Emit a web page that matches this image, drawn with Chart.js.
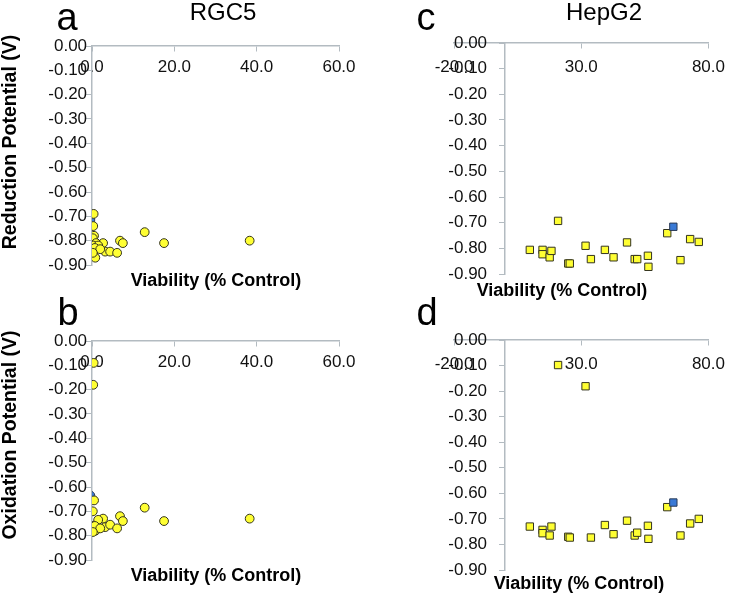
<!DOCTYPE html>
<html>
<head>
<meta charset="utf-8">
<script src="https://cdn.jsdelivr.net/npm/chart.js@4.4.0/dist/chart.umd.min.js"></script>
<style>
  body { margin: 0; background: #fff; font-family: "Liberation Sans", Arial, sans-serif; }
  #wrap { position: relative; width: 734px; height: 595px; overflow: hidden; }
  canvas { position: absolute; }
  .lbl { position: absolute; color: #000; white-space: nowrap; line-height: 1; }
  .bold { font-weight: bold; }
</style>
</head>
<body>
<div id="wrap">
  <canvas id="panelA" width="367" height="297" style="left:0;top:0"></canvas>
  <canvas id="panelB" width="367" height="298" style="left:0;top:297px"></canvas>
  <canvas id="panelC" width="367" height="297" style="left:367px;top:0"></canvas>
  <canvas id="panelD" width="367" height="298" style="left:367px;top:297px"></canvas>
</div>
<script>
// RGC5 compounds (panels a, b)
const rgc5Viability = [0.4, 0.3, 0.5, 0.2, 1.0, 0.3, 0.6, 0.4, 0.8, 2.7, 3.2, 4.4, 6.1, 6.8, 7.5, 12.8, 17.5, 38.3, 1.5, 0.7, 2.0, 0.2];
const rgc5Reduction = [-0.69, -0.74, -0.78, -0.79, -0.81, -0.82, -0.84, -0.86, -0.87, -0.81, -0.845, -0.845, -0.85, -0.80, -0.81, -0.765, -0.81, -0.80, -0.82, -0.83, -0.835, -0.85];
const rgc5Oxidation = [-0.09, -0.18, -0.655, -0.70, -0.755, -0.76, -0.765, -0.775, -0.78, -0.73, -0.765, -0.755, -0.77, -0.72, -0.74, -0.685, -0.74, -0.73, -0.735, -0.76, -0.77, -0.785];
// reference compound (blue)
const rgc5RefViability = [-0.4];
const rgc5RefReduction = [-0.715];
const rgc5RefOxidation = [-0.635];

// HepG2 compounds (panels c, d)
const hepViability = [9.8, 14.8, 14.8, 17.6, 18.3, 20.9, 24.9, 25.5, 31.7, 33.8, 39.3, 42.7, 48.0, 51.0, 52.0, 56.2, 56.4, 63.8, 69.0, 72.8, 76.2];
const hepReduction = [-0.806, -0.806, -0.823, -0.835, -0.81, -0.693, -0.859, -0.859, -0.79, -0.842, -0.806, -0.835, -0.777, -0.842, -0.842, -0.829, -0.872, -0.741, -0.846, -0.764, -0.775];
const hepOxidation = [-0.73, -0.743, -0.756, -0.765, -0.73, -0.098, -0.77, -0.773, -0.181, -0.773, -0.724, -0.76, -0.707, -0.765, -0.754, -0.727, -0.778, -0.654, -0.765, -0.718, -0.70];
const hepRefViability = [66.2];
const hepRefReduction = [-0.716];
const hepRefOxidation = [-0.636];

// tick labels
const rgc5XTicks = [0, 20, 40, 60];
const hepXTicks = [-20, 30, 80];
const potentialTicks = [0, -0.1, -0.2, -0.3, -0.4, -0.5, -0.6, -0.7, -0.8, -0.9];

const axisGrey = '#b3bbc1';
const yellow = '#ffff33';
const blue = '#3a7ad6';
const edge = '#34341f';
const tickFont = { size: 17, family: '"Liberation Sans", Arial, sans-serif' };

function toPoints(xs, ys) {
    return xs.map((x, i) => ({ x: x, y: ys[i] }));
}

function makePanel(id, opts) {
    const main = {
        data: toPoints(opts.xs, opts.ys),
        pointStyle: opts.style,
        pointRadius: opts.radius,
        pointBackgroundColor: yellow,
        pointBorderColor: edge,
        pointBorderWidth: 1
    };
    const ref = {
        data: toPoints(opts.refXs, opts.refYs),
        pointStyle: opts.style,
        pointRadius: opts.radius,
        pointBackgroundColor: blue,
        pointBorderColor: '#2a3a55',
        pointBorderWidth: 1
    };
    const yTicksOnly = scale => { scale.ticks = potentialTicks.map(v => ({ value: v })); };
    new Chart(document.getElementById(id), {
        type: 'scatter',
        data: { datasets: opts.refOnTop ? [ref, main] : [main, ref] },
        options: {
            responsive: false,
            animation: false,
            layout: { padding: opts.padding },
            plugins: { legend: { display: false }, tooltip: { enabled: false } },
            scales: {
                x: {
                    type: 'linear',
                    position: { y: 0 },
                    min: opts.xTicks[0],
                    max: opts.xTicks[opts.xTicks.length - 1],
                    afterBuildTicks: scale => { scale.ticks = opts.xTicks.map(v => ({ value: v })); },
                    grid: { drawOnChartArea: false, tickLength: 5, color: axisGrey },
                    border: { color: axisGrey, width: 1.5 },
                    ticks: {
                        color: '#111',
                        font: tickFont,
                        padding: opts.xPad,
                        maxRotation: 0,
                        callback: v => Number(v).toFixed(1)
                    }
                },
                // axis line and tick marks, crossing at viability 0
                y: {
                    type: 'linear',
                    position: { x: 0 },
                    min: -0.9,
                    max: 0,
                    afterBuildTicks: yTicksOnly,
                    grid: { drawOnChartArea: false, tickLength: 5, color: axisGrey },
                    border: { color: axisGrey, width: 1.5 },
                    ticks: { display: false }
                },
                // tick labels, set a little left of the axis line
                yl: {
                    type: 'linear',
                    axis: 'y',
                    position: { x: opts.yLabelAt },
                    min: -0.9,
                    max: 0,
                    afterBuildTicks: yTicksOnly,
                    grid: { display: false },
                    border: { display: false },
                    ticks: {
                        color: '#111',
                        font: tickFont,
                        callback: v => Number(v).toFixed(2)
                    }
                }
            }
        }
    });
}

makePanel('panelA', {
    xs: rgc5Viability, ys: rgc5Reduction, refXs: rgc5RefViability, refYs: rgc5RefReduction,
    xTicks: rgc5XTicks, style: 'circle', radius: 4.4, refOnTop: false, xPad: 6, yLabelAt: -1.2,
    padding: { left: 92, top: 46, right: 28, bottom: 32 }
});
makePanel('panelB', {
    xs: rgc5Viability, ys: rgc5Oxidation, refXs: rgc5RefViability, refYs: rgc5RefOxidation,
    xTicks: rgc5XTicks, style: 'circle', radius: 4.4, refOnTop: false, xPad: 6, yLabelAt: -1.2,
    padding: { left: 92, top: 44, right: 28, bottom: 35 }
});
makePanel('panelC', {
    xs: hepViability, ys: hepReduction, refXs: hepRefViability, refYs: hepRefReduction,
    xTicks: hepXTicks, style: 'rect', radius: 5.2, refOnTop: true, xPad: 9, yLabelAt: -7,
    padding: { left: 87, top: 43, right: 19, bottom: 23 }
});
makePanel('panelD', {
    xs: hepViability, ys: hepOxidation, refXs: hepRefViability, refYs: hepRefOxidation,
    xTicks: hepXTicks, style: 'rect', radius: 5.2, refOnTop: true, xPad: 9, yLabelAt: -7,
    padding: { left: 87, top: 43, right: 19, bottom: 25 }
});

// text labels: [text, centerX, baselineY, size, bold]
const labels = [
    ['a', 67, 30, 38, false],
    ['b', 68, 325, 38, false],
    ['c', 426, 30, 38, false],
    ['d', 427, 325, 38, false],
    ['RGC5', 223, 20, 24, false],
    ['HepG2', 604, 20, 24, false],
    ['Viability (% Control)', 216, 286, 18, true],
    ['Viability (% Control)', 216, 581, 18, true],
    ['Viability (% Control)', 562, 296, 18, true],
    ['Viability (% Control)', 579, 589, 18, true]
];
const wrap = document.getElementById('wrap');
labels.forEach(([text, x, base, size, bold]) => {
    const d = document.createElement('div');
    d.className = 'lbl' + (bold ? ' bold' : '');
    d.textContent = text;
    d.style.fontSize = size + 'px';
    d.style.left = x + 'px';
    d.style.top = (base - 0.8465 * size) + 'px';
    d.style.transform = 'translateX(-50%)';
    wrap.appendChild(d);
});

// rotated y-axis titles: [text, centerX, centerY]
[['Reduction Potential (V)', 10, 142], ['Oxidation Potential (V)', 10, 435]].forEach(([text, x, y]) => {
    const d = document.createElement('div');
    d.className = 'lbl bold';
    d.textContent = text;
    d.style.fontSize = '19.5px';
    d.style.left = x + 'px';
    d.style.top = y + 'px';
    d.style.transform = 'translate(-50%, -50%) rotate(-90deg)';
    wrap.appendChild(d);
});
</script>
</body>
</html>
